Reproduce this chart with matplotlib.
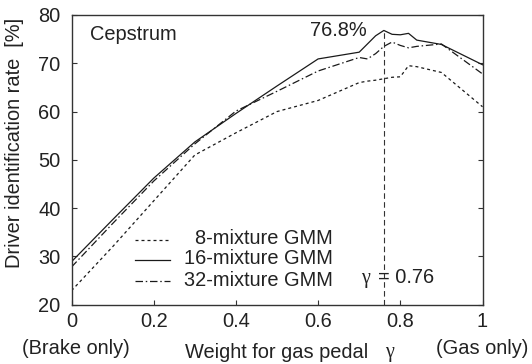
import matplotlib
matplotlib.use("Agg")
import matplotlib.pyplot as plt
from matplotlib.lines import Line2D

# ---- data ----
gamma = [0.0, 0.1, 0.2, 0.3, 0.4, 0.5, 0.6, 0.7, 0.72, 0.74, 0.76, 0.78, 0.8, 0.82, 0.84, 0.9, 1.0]
gmm8 = [22.9, 32.0, 41.5, 51.0, 55.6, 60.0, 62.3, 66.0, 66.3, 66.5, 66.8, 67.1, 67.2, 69.5, 69.3, 68.1, 61.0]
gmm16 = [28.9, 37.6, 46.2, 53.7, 59.6, 65.3, 70.9, 72.3, 74.0, 75.7, 76.8, 76.0, 75.9, 76.2, 74.8, 73.9, 69.7]
gmm32 = [27.8, 36.8, 45.6, 53.3, 60.1, 64.2, 68.4, 71.2, 70.9, 72.0, 73.5, 74.4, 73.7, 73.2, 73.5, 74.0, 67.8]
series_labels = ["8-mixture GMM", "16-mixture GMM", "32-mixture GMM"]
xticks = [0, 0.2, 0.4, 0.6, 0.8, 1]
xticklabels = ["0", "0.2", "0.4", "0.6", "0.8", "1"]
yticks = [20, 30, 40, 50, 60, 70, 80]
best_gamma = 0.76
best_rate = 76.8

W, H = 532, 364
plt.rcParams['font.family'] = ['Liberation Sans', 'DejaVu Sans']
FS = 14.4
fig = plt.figure(figsize=(W / 100, H / 100), dpi=100)

def fx(px):
    return px / W

def fy(py):
    return 1 - py / H

ax = fig.add_axes([fx(71.5), fy(304.7), fx(482.5) - fx(71.5), fy(15) - fy(304.7)])

lc = '#1a1a1a'
lw = 0.9
styles = [(0, (2.4, 2.4)), '-', (0, (6, 2.2, 1.2, 2.2))]
for ys, ls in zip([gmm8, gmm16, gmm32], styles):
    ax.plot(gamma, ys, color=lc, lw=lw, linestyle=ls)

ax.plot([best_gamma, best_gamma], [20, best_rate], color='#333333', lw=0.8,
        linestyle=(0, (5, 3)))

ax.set_xlim(0, 1)
ax.set_ylim(20, 80)
ax.set_xticks(xticks)
ax.set_xticklabels(xticklabels)
ax.set_yticks(yticks)
ax.tick_params(axis='both', direction='in', length=3.8, width=0.8, labelsize=FS,
               color='#333333', labelcolor='#222222')
ax.tick_params(axis='y', right=True, pad=8)
ax.tick_params(axis='x', pad=5.5)
for s in ax.spines.values():
    s.set_color('#333333')
    s.set_linewidth(1.0)

tc = '#222222'
# annotations inside axes
fig.text(fx(90), fy(40.5), "Cepstrum", fontsize=FS, color=tc, ha='left', va='baseline')
fig.text(fx(367), fy(36), "76.8%", fontsize=FS, color=tc, ha='right', va='baseline')
fig.text(fx(361.5), fy(283.3), "γ", fontsize=FS, color=tc, ha='left', va='baseline',
         family=['Liberation Serif', 'DejaVu Serif'])
fig.text(fx(377.5), fy(283.3), "= 0.76", fontsize=FS, color=tc, ha='left', va='baseline')

# legend (manual)
handle_y = [239.5, 259.5, 281]
text_y = [244.2, 264.0, 285.6]
for ls, hy, ty, lab in zip(styles, handle_y, text_y, series_labels):
    fig.add_artist(Line2D([fx(135), fx(170)], [fy(hy), fy(hy)], color=lc, lw=lw,
                          linestyle=ls, transform=fig.transFigure))
    fig.text(fx(332.5), fy(ty), lab, fontsize=FS, color=tc, ha='right', va='baseline')

# axis labels
fig.text(fx(14.2), fy(143), "Driver identification rate  [%]", fontsize=FS, color=tc,
         rotation=90, ha='center', va='center')
fig.text(fx(21.7), fy(353.5), "(Brake only)", fontsize=FS, color=tc, ha='left', va='baseline')
fig.text(fx(185), fy(357.5), "Weight for gas pedal", fontsize=FS, color=tc, ha='left', va='baseline')
fig.text(fx(385), fy(357.5), "γ", fontsize=FS, color=tc, ha='left', va='baseline',
         family=['Liberation Serif', 'DejaVu Serif'])
fig.text(fx(435.5), fy(353.5), "(Gas only)", fontsize=FS, color=tc, ha='left', va='baseline')

fig.savefig("out.png", dpi=100)
